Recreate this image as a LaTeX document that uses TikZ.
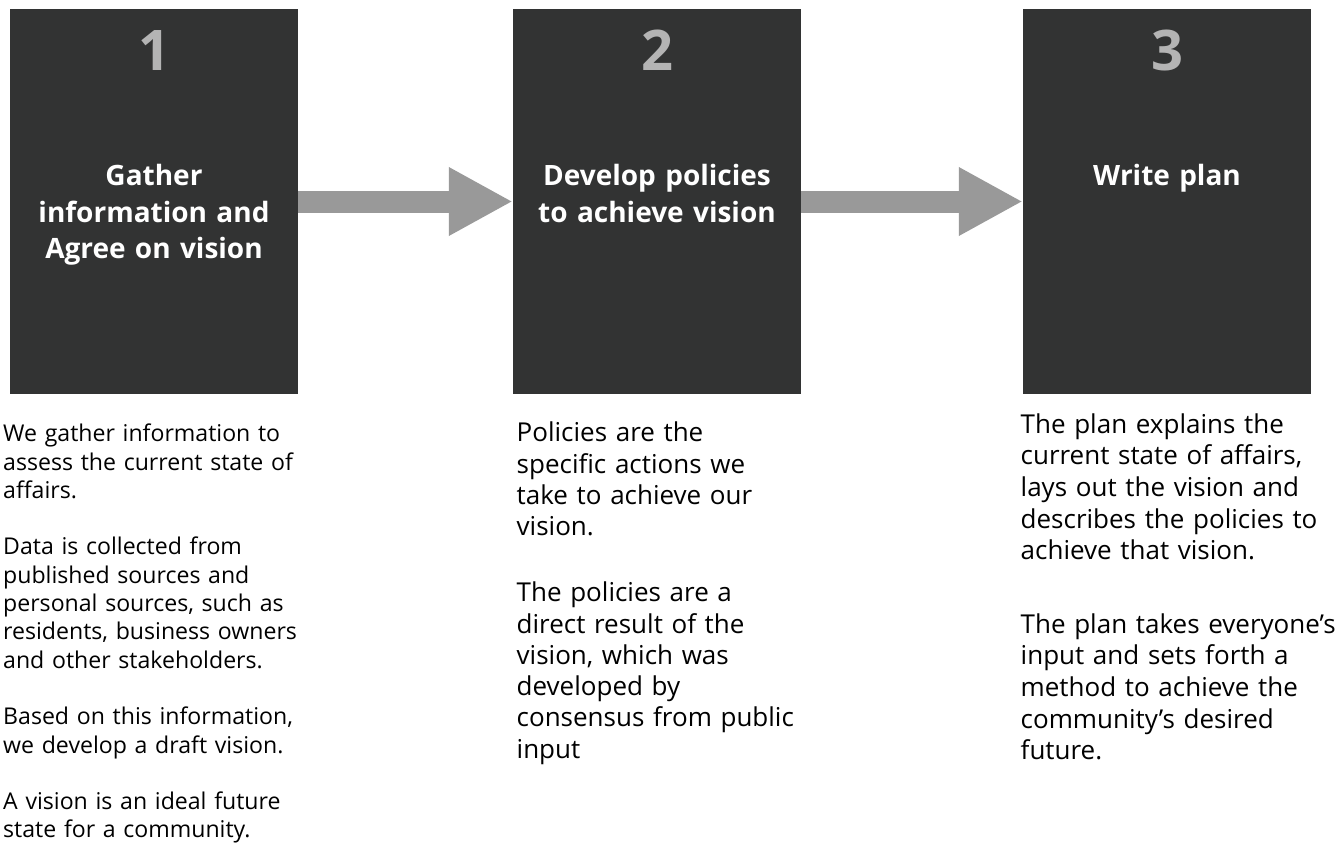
\documentclass[tikz,border=0pt]{standalone}
\usepackage{fontspec}
\setmainfont{Open Sans}
\usetikzlibrary{arrows.meta,positioning}

\definecolor{stepdark}{HTML}{323333}
\definecolor{stepnum}{HTML}{B4B4B4}
\definecolor{flowgray}{HTML}{999999}

\tikzset{
  stepbox/.style={fill=stepdark, minimum width=288pt, minimum height=385pt, inner sep=0pt},
  stepnumber/.style={anchor=base, text=stepnum, font=\fontsize{56}{60}\selectfont\bfseries},
  steptitle/.style={anchor=base, text=white, text width=280pt, align=center, inner sep=0pt,
    font=\fontsize{28}{36.5}\selectfont\bfseries},
  flow/.style={flowgray, line width=22pt, -{Triangle[length=64pt, width=64pt]}},
  notes/.style={anchor=base west, text width=340pt, align=left, inner sep=0pt}
}

\begin{document}
\begin{tikzpicture}[x=1pt, y=-1pt]
    \useasboundingbox (0,0) rectangle (1339,846);

    \node[stepbox] (box1) at (154,201.5) {};
    \node[stepbox] (box2) at (657,201.5) {};
    \node[stepbox] (box3) at (1167,201.5) {};

    \node[stepnumber] (num1) at (154,70) {1};
    \node[stepnumber] (num2) at (657,70) {2};
    \node[stepnumber] (num3) at (1167,70) {3};

    \node[steptitle] (title1) at (154,185.5) {Gather\\information and\\Agree on vision};
    \node[steptitle] (title2) at (657,185.5) {Develop policies\\to achieve vision};
    \node[steptitle] (title3) at (1167,185.5) {Write plan};

    \draw[flow] (box1.east) -- (box2.west);
    \draw[flow] (box2.east) -- (box3.west);

    % notes under the boxes
    \node[notes, font=\fontsize{23.1}{28.3}\selectfont] (notes1) at (3,441.7)
      {We gather information to\\assess the current state of\\affairs.\\[28.3pt]
       Data is collected from\\published sources and\\personal sources, such as\\residents, business owners\\and other stakeholders.\\[28.3pt]
       Based on this information,\\we develop a draft vision.\\[28.3pt]
       A vision is an ideal future\\state for a community.};
    \node[notes, font=\fontsize{26}{31.3}\selectfont] (notes2) at (516.5,441.7)
      {Policies are the\\specific actions we\\take to achieve our\\vision.\\[34.8pt]
       The policies are a\\direct result of the\\vision, which was\\developed by\\consensus from public\\input};
    \node[notes, font=\fontsize{26}{31.7}\selectfont] (notes3) at (1020.5,433)
      {The plan explains the\\current state of affairs,\\lays out the vision and\\describes the policies to\\achieve that vision.\\[41.5pt]
       The plan takes everyone’s\\input and sets forth a\\method to achieve the\\community’s desired\\future.};
\end{tikzpicture}
\end{document}
